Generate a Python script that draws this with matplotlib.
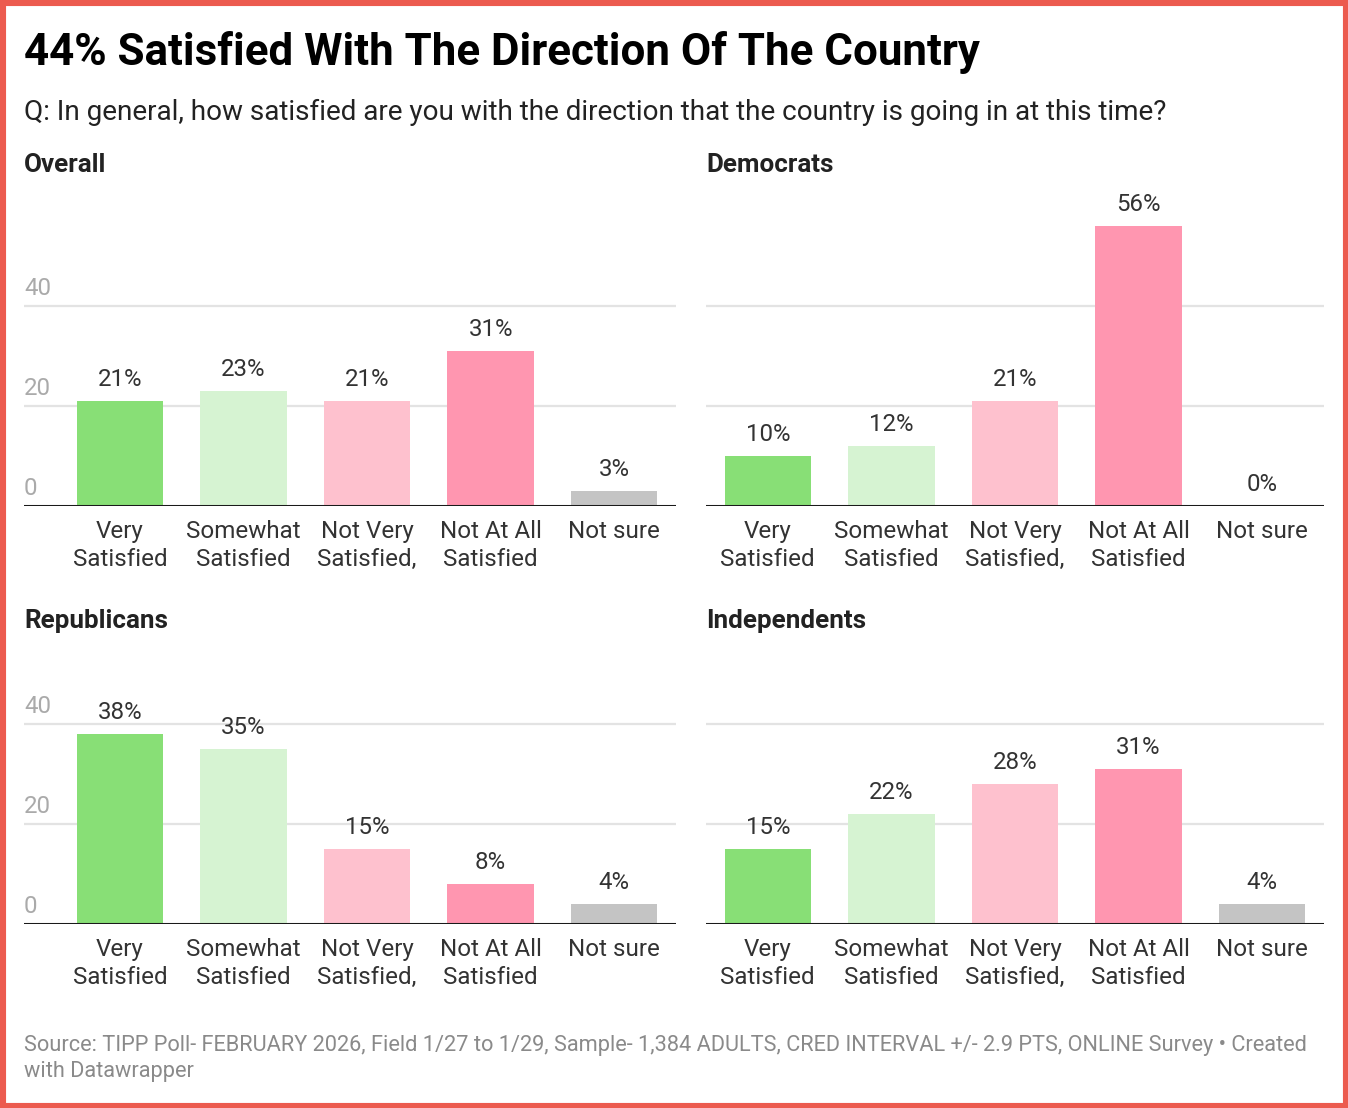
import matplotlib.pyplot as plt
from matplotlib.patches import Rectangle
import matplotlib.transforms as mtransforms

plt.rcParams['font.family'] = ['Roboto', 'DejaVu Sans']

categories = ['Very\nSatisfied', 'Somewhat\nSatisfied', 'Not Very\nSatisfied,',
              'Not At All\nSatisfied', 'Not sure']
overall = [21, 23, 21, 31, 3]
democrats = [10, 12, 21, 56, 0]
republicans = [38, 35, 15, 8, 4]
independents = [15, 22, 28, 31, 4]
bar_colors = ['#88DF76', '#D6F3D2', '#FEC1CE', '#FF96B0', '#C4C4C4']
y_ticks = [0, 20, 40]

W, H = 1348, 1108
fig = plt.figure(figsize=(W / 100, H / 100), dpi=100)
fig.patch.set_facecolor('white')

# red frame around the whole graphic
fig.add_artist(Rectangle((0, 0), 1, 1, transform=fig.transFigure, fill=False,
                         edgecolor='#EC5B4F', linewidth=8, clip_on=False))


def px_axes(x0, x1, base, top):
    return fig.add_axes([x0 / W, (H - base) / H, (x1 - x0) / W, (base - top) / H])


def fx(x):
    return x / W


def fy(y):
    return 1 - y / H


fig.text(fx(24), fy(52), '44% Satisfied With The Direction Of The Country',
         fontsize=31.6, fontweight='bold', color='#000000', va='center')
fig.text(fx(24), fy(112),
         'Q: In general, how satisfied are you with the direction that the country is going in at this time?',
         fontsize=20.1, color='#222222', va='center')
fig.text(fx(24), fy(1045),
         'Source: TIPP Poll- FEBRUARY 2026, Field 1/27 to 1/29, Sample- 1,384 ADULTS, '
         'CRED INTERVAL +/- 2.9 PTS, ONLINE Survey \u2022 Created',
         fontsize=15.7, color='#8a8a8a', va='center')
fig.text(fx(24), fy(1071), 'with Datawrapper', fontsize=15.7, color='#8a8a8a', va='center')

panels = [
    ('Overall', overall, 24, 676, 506, 165, True),
    ('Democrats', democrats, 706, 1324, 506, 165, False),
    ('Republicans', republicans, 24, 676, 924, 621, True),
    ('Independents', independents, 706, 1324, 924, 621, False),
]

for name, values, x0, x1, base, title_y, show_y in panels:
    ax = px_axes(x0, x1, base, base - 63 * 5)
    fig.text(fx(x0), fy(title_y), name, fontsize=18.7, fontweight='bold',
             color='#222222', va='center')
    xs = range(len(values))
    ax.bar(xs, values, width=0.70, color=bar_colors, zorder=2)
    for x, v in zip(xs, values):
        ax.annotate(f'{v}%', (x, v), xytext=(0, 7.5), textcoords='offset points',
                    ha='center', va='bottom', fontsize=17.3, color='#333333')
    for t in y_ticks[1:]:
        ax.axhline(t, color='#e3e3e3', linewidth=1.6, zorder=1)
    ax.axhline(0, color='#1a1a1a', linewidth=2.2, zorder=3)
    left = -0.777 if show_y else -0.5
    ax.set_xlim(left, 4.5)
    ax.set_ylim(0, 63)
    ax.set_xticks(list(xs))
    ax.set_xticklabels(categories, fontsize=17.4, color='#333333', linespacing=1.26)
    ax.tick_params(axis='x', length=0, pad=10)
    ax.set_yticks([])
    for s in ax.spines.values():
        s.set_visible(False)
    ax.patch.set_alpha(0)
    if show_y:
        trans = mtransforms.blended_transform_factory(ax.transAxes, ax.transData)
        for t in y_ticks:
            ax.text(0, t + 1.2, str(t), transform=trans, ha='left', va='bottom',
                    fontsize=17.3, color='#aaaaaa')

fig.savefig('out.png', dpi=100, facecolor='white')
